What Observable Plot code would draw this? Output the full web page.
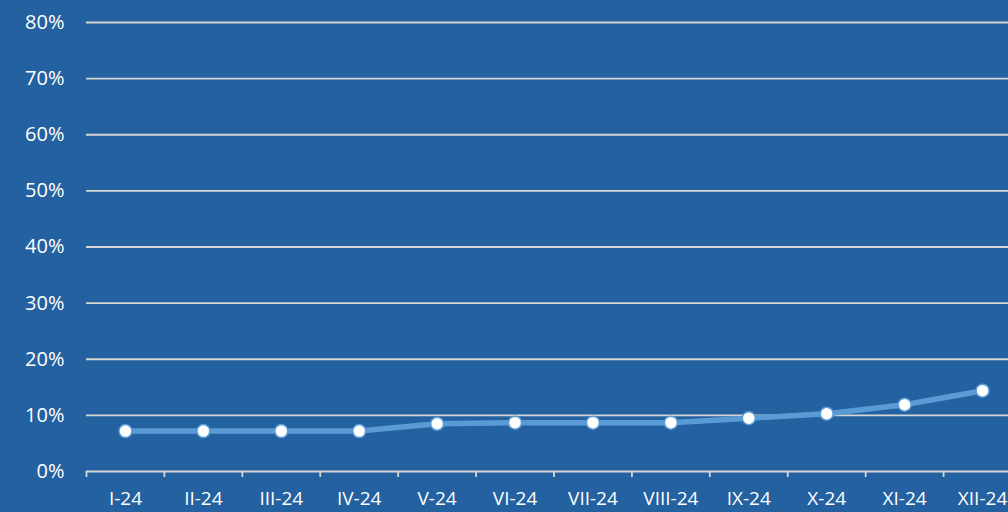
<!DOCTYPE html>
<html>
<head>
<meta charset="utf-8">
<script src="https://cdn.jsdelivr.net/npm/d3@7"></script>
<script src="https://cdn.jsdelivr.net/npm/@observablehq/plot@0.6"></script>
<style>
  html, body { margin: 0; padding: 0; background: #2361a1; overflow: hidden; }
  #chart svg { display: block; background: #2361a1; overflow: visible; }
</style>
</head>
<body>
<div id="chart"></div>
<script>
const months = ["I-24","II-24","III-24","IV-24","V-24","VI-24","VII-24","VIII-24","IX-24","X-24","XI-24","XII-24"];
const values = [0.072, 0.072, 0.072, 0.072, 0.085, 0.087, 0.087, 0.087, 0.095, 0.103, 0.119, 0.144];
const yTicks = [0, 0.1, 0.2, 0.3, 0.4, 0.5, 0.6, 0.7, 0.8];

const data = months.map((m, i) => ({month: m, value: values[i]}));

const W = 1008, H = 512, ML = 86, MR = -13;
const bw = (W - ML - MR) / months.length;

const chart = Plot.plot({
  width: W,
  height: H,
  marginLeft: ML,
  marginRight: MR,
  marginTop: 22,
  marginBottom: 41,
  style: {background: "#2361a1", color: "#ffffff", fontFamily: "'Open Sans', sans-serif", fontSize: "20px"},
  x: {type: "band", domain: months, padding: 0, round: false},
  y: {domain: [0, 0.8]},
  marks: [
    Plot.ruleY(yTicks, {stroke: "#d6d6d6", strokeWidth: 1.8, strokeOpacity: 1}),
    Plot.axisY({ticks: yTicks, tickSize: 0, tickPadding: 22, tickFormat: d => Math.round(d * 100) + "%", fill: "#ffffff", fontSize: 20, label: null}),
    Plot.axisX({tickSize: 6, dx: -bw / 2, text: null, stroke: "#d6d6d6", strokeWidth: 1.8, strokeOpacity: 1, label: null}),
    Plot.axisX({tickSize: 0, tickPadding: 20, fill: "#ffffff", fontSize: 19, label: null}),
    Plot.line(data, {x: "month", y: "value", stroke: "#5b9bd5", strokeWidth: 5.5}),
    Plot.dot(data, {x: "month", y: "value", r: 6.5, fill: "#ffffff", stroke: "#5b9bd5", strokeWidth: 1.5})
  ]
});
document.getElementById("chart").appendChild(chart);
</script>
</body>
</html>
